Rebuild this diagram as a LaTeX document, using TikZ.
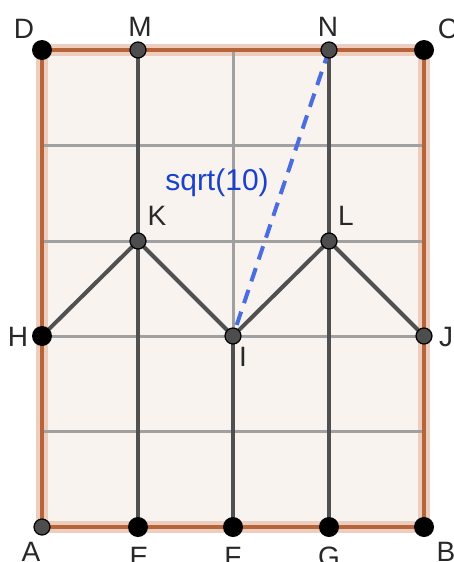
\documentclass[tikz,border=0pt]{standalone}
\usepackage{fontspec}
\setmainfont{Liberation Sans}
\definecolor{rectfill}{RGB}{249,243,240}
\definecolor{rectedge}{RGB}{184,100,58}
\definecolor{rectglow}{RGB}{236,205,190}
\definecolor{gridgray}{RGB}{160,160,160}
\definecolor{seggray}{RGB}{80,80,80}
\definecolor{ptgray}{RGB}{77,77,77}
\definecolor{dashblue}{RGB}{74,110,225}
\definecolor{lblblue}{RGB}{25,65,205}
\definecolor{lblgray}{RGB}{40,40,40}
\tikzset{
  gridline/.style={draw=gridgray, line width=3pt},
  segline/.style={draw=seggray, line width=4pt},
  bigpt/.style={fill=black, draw=none},
  smallpt/.style={fill=ptgray, draw=black, line width=1.2pt},
  lbl/.style={font=\fontsize{28}{31}\selectfont, text=lblgray, inner sep=0pt},
}
\begin{document}
\begin{tikzpicture}[x=1pt,y=-1pt]
\useasboundingbox[fill=white] (0,0) rectangle (454,562);
% points
\coordinate (D) at (42,50);
\coordinate (M) at (138,50);
\coordinate (N) at (329,50);
\coordinate (C) at (424,50);
\coordinate (K) at (138,241);
\coordinate (L) at (329,241);
\coordinate (H) at (42,336);
\coordinate (I) at (233,336);
\coordinate (J) at (424,336);
\coordinate (A) at (42,527);
\coordinate (E) at (138,527);
\coordinate (F) at (233,527);
\coordinate (G) at (329,527);
\coordinate (B) at (424,527);
% rectangle fill and glow
\fill[rectfill] (A) rectangle (C);
\draw[rectglow, line width=12pt] (A) -- (B) -- (C) -- (D) -- cycle;
% grid
\foreach \x in {138,233,329} \draw[gridline] (\x,50) -- (\x,527);
\foreach \y in {145,241,336,431} \draw[gridline] (42,\y) -- (424,\y);
% rectangle edge
\draw[rectedge, line width=4pt, line join=miter] (A) -- (B) -- (C) -- (D) -- cycle;
% segments
\draw[segline] (M) -- (E);
\draw[segline] (N) -- (G);
\draw[segline] (I) -- (F);
\draw[segline] (H) -- (K) -- (I) -- (L) -- (J);
\draw[dashblue, line width=4pt, dash pattern=on 14pt off 9pt] (N) -- (I);
% points drawn
\foreach \p in {D,C,H,E,F,G,B} \fill[bigpt] (\p) circle (10);
\foreach \p in {M,N,K,L,I,J,A} \filldraw[smallpt] (\p) circle (8);
% labels
\node[lbl] (lD) at (24,29) {D};
\node[lbl] (lM) at (140,27) {M};
\node[lbl] (lN) at (328,27) {N};
\node[lbl] (lC) at (448,29) {C};
\node[lbl] (lK) at (157,216) {K};
\node[lbl] (lL) at (346,216) {L};
\node[lbl] (lH) at (18,337) {H};
\node[lbl] (lI) at (243,357) {I};
\node[lbl] (lJ) at (446,337) {J};
\node[lbl] (lA) at (31,552) {A};
\node[lbl] (lE) at (139,557) {E};
\node[lbl] (lF) at (233,557) {F};
\node[lbl] (lG) at (329,557) {G};
\node[lbl] (lB) at (446,552) {B};
\node[lbl, text=lblblue, font=\fontsize{30}{33}\selectfont] (sq) at (217,183) {sqrt(10)};
\end{tikzpicture}
\end{document}
